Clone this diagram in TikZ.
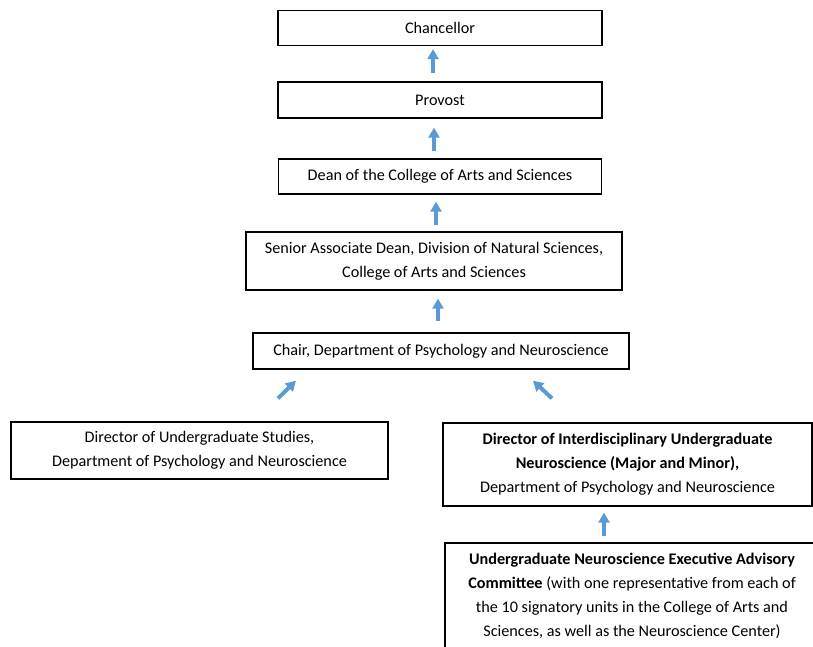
\documentclass[tikz,border=0pt]{standalone}
\usepackage{fontspec}
\setmainfont{Carlito}
\usetikzlibrary{arrows.meta}
\definecolor{arrblue}{HTML}{5B9BD5}
\tikzset{
  box/.style={draw=black, line width=1.3pt, inner sep=0pt, align=center,
    font=\fontsize{16.2}{24}\selectfont},
  arr/.style={draw=arrblue, line width=4pt,
    -{Triangle[width=11pt,length=10pt]}}
}
\begin{document}
\begin{tikzpicture}[x=1pt,y=-1pt]
\useasboundingbox (0,0) rectangle (813,646);
\clip (0,0) rectangle (813,646);
\node[box, minimum width=324pt, minimum height=35pt] (chan) at (440,28) {Chancellor};
\node[box, minimum width=324pt, minimum height=36pt] (prov) at (440,100) {Provost};
\node[box, minimum width=323pt, minimum height=35pt] (dean) at (440,176.5) {Dean of the College of Arts and Sciences};
\node[box, minimum width=376pt, minimum height=58pt] (sad) at (434,261) {Senior Associate Dean, Division of Natural Sciences,\\College of Arts and Sciences};
\node[box, minimum width=376pt, minimum height=36pt] (chair) at (441,351) {Chair, Department of Psychology and Neuroscience};
\node[box, minimum width=377pt, minimum height=57pt] (dus) at (199.5,450.5) {Director of Undergraduate Studies,\\Department of Psychology and Neuroscience};
\node[box, minimum width=369pt, minimum height=83pt] (dis) at (627.5,464.5) {\textbf{Director of Interdisciplinary Undergraduate}\\\textbf{Neuroscience (Major and Minor),}\\Department of Psychology and Neuroscience};
\node[box, minimum width=374pt, minimum height=106pt] (ueac) at (632,596) {\textbf{Undergraduate Neuroscience Executive Advisory}\\\textbf{Committee} (with one representative from each of\\the 10 signatory units in the College of Arts and\\Sciences, as well as the Neuroscience Center)};
\draw[arr] ([xshift=-7pt,yshift=8pt]prov.north) -- ([xshift=-7pt,yshift=-3pt]chan.south);
\draw[arr] ([xshift=-6pt,yshift=7pt]dean.north) -- ([xshift=-6pt,yshift=-9pt]prov.south);
\draw[arr] ([xshift=2pt,yshift=6pt]sad.north) -- ([xshift=-4pt,yshift=-7pt]dean.south);
\draw[arr] ([xshift=-3pt,yshift=11pt]chair.north) -- ([xshift=4pt,yshift=-8pt]sad.south);
\draw[arr] ([xshift=78.5pt,yshift=23pt]dus.north) -- ([xshift=-145pt,yshift=-11pt]chair.south);
\draw[arr] ([xshift=-75.5pt,yshift=24pt]dis.north) -- ([xshift=92pt,yshift=-11pt]chair.south);
\draw[arr] ([xshift=-28pt,yshift=6pt]ueac.north) -- ([xshift=-23.5pt,yshift=-6pt]dis.south);
\end{tikzpicture}
\end{document}
